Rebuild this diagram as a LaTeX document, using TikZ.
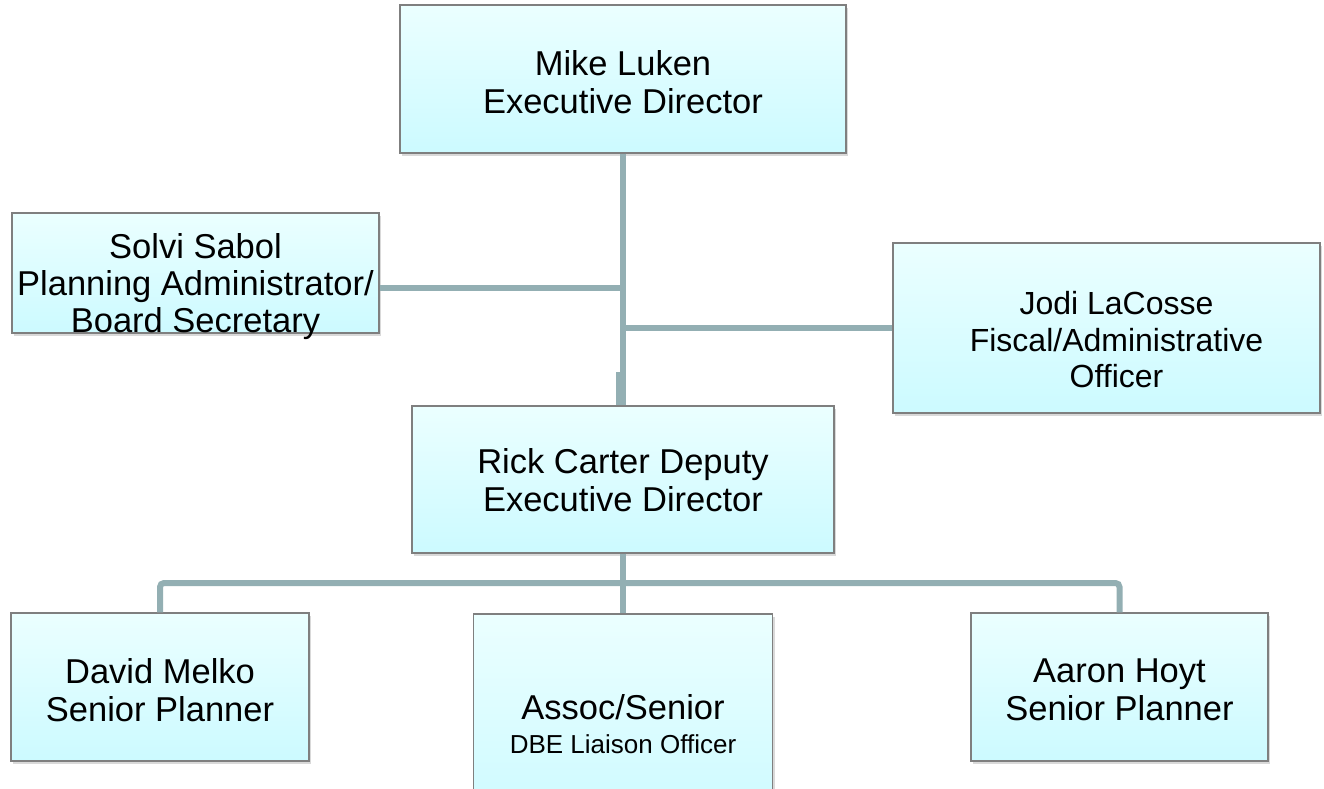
\documentclass[tikz,border=0pt]{standalone}
\usepackage{fontspec}
\setmainfont{Liberation Sans}
\usepackage{xcolor}
\usepackage{tikz}
\usetikzlibrary{shadows}
\usetikzlibrary{calc}

\definecolor{boxtop}{HTML}{EBFFFF}
\definecolor{boxbottom}{HTML}{CCFAFF}
\definecolor{boxline}{HTML}{7F7F7F}
\definecolor{linkline}{HTML}{93AFB3}

\begin{document}
\begin{tikzpicture}[
        x=1pt, y=-1pt,
        personbox/.style={draw=boxline, line width=1.2pt, top color=boxtop, bottom color=boxbottom,
            drop shadow={opacity=0.3, shadow xshift=2pt, shadow yshift=-3pt}, inner sep=0pt},
        persontext/.style={align=center},
        link/.style={draw=linkline, line width=6pt}
    ]

    \useasboundingbox (0,0) rectangle (1324,789);

    %=== Person Macro ===%
    % name, x, y, width, height, text shift, font, text
    \newcommand{\person}[8]{
        \node[personbox, minimum width=#4, minimum height=#5] (#1) at (#2,#3) {};
        \node[persontext, font=#7] (#1-text) at ([shift={#6}]#1.center) {#8};
    }

    %=== PEOPLE ===%
    \person{mike}{623}{79}{446pt}{148pt}{(0,3)}{\fontsize{34.5}{38}\selectfont}{
    Mike Luken\\Executive Director};

    \person{solvi}{195.5}{273}{367pt}{120pt}{(0,14)}{\fontsize{34.5}{37}\selectfont}{
    Solvi Sabol\\Planning Administrator/\\Board Secretary};

    \person{jodi}{1106.5}{328}{427pt}{170pt}{(10,12)}{\fontsize{32}{36.5}\selectfont}{
    Jodi LaCosse\\Fiscal/Administrative\\Officer};

    \person{rick}{623}{479.5}{422pt}{147pt}{(0,1)}{\fontsize{34.5}{38}\selectfont}{
    Rick Carter Deputy\\Executive Director};

    \person{david}{160}{687}{298pt}{148pt}{(0,3)}{\fontsize{34.5}{38}\selectfont}{
    David Melko\\Senior Planner};

    \person{assoc}{623}{720}{299pt}{212pt}{(0,4)}{\fontsize{34.5}{38}\selectfont}{
    Assoc/Senior\\[-4pt]{\fontsize{26}{30}\selectfont DBE Liaison Officer}};

    \person{aaron}{1119.5}{687}{297pt}{148pt}{(0,3)}{\fontsize{34.5}{38}\selectfont}{
    Aaron Hoyt\\Senior Planner};

    %=== Connectors ===%
    \coordinate (bus) at (623,583);
    \draw[link] (mike.south) -- (rick.north);
    \draw[link] ([xshift=-4pt]rick.north) -- ++(0,-33);
    \draw[link] ([yshift=-15pt]solvi.east) -- ([yshift=-15pt]solvi.east -| mike.south);
    \draw[link] (jodi.west) -- (jodi.west -| mike.south);
    \draw[link] (rick.south) -- (assoc.north);
    \draw[link, rounded corners=4pt] (david.north) |- (bus) -| (aaron.north);
\end{tikzpicture}
\end{document}
